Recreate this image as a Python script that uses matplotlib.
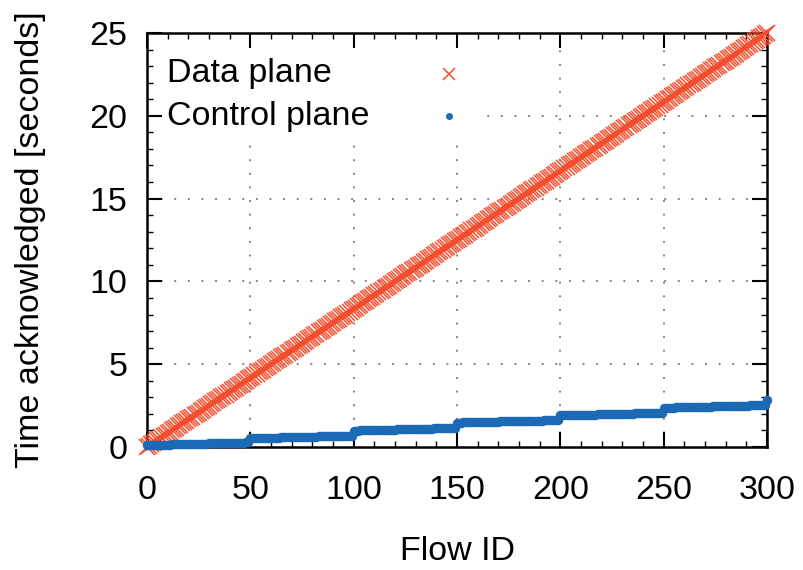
import matplotlib
matplotlib.use('Agg')
import matplotlib.pyplot as plt
from matplotlib.patches import Rectangle
from matplotlib.ticker import MultipleLocator

plt.rcParams['font.family'] = ['Liberation Sans', 'DejaVu Sans']

# flow ids 0..300
flow_id = list(range(301))

# data plane: ack time grows steadily with flow id
data_plane = [
    0.00, 0.08, 0.17, 0.25, 0.33, 0.42, 0.50, 0.58, 0.67, 0.75, 0.83, 0.92,
    1.00, 1.08, 1.17, 1.25, 1.33, 1.42, 1.50, 1.58, 1.67, 1.75, 1.83, 1.92,
    2.00, 2.08, 2.17, 2.25, 2.33, 2.42, 2.50, 2.58, 2.67, 2.75, 2.83, 2.92,
    3.00, 3.08, 3.17, 3.25, 3.33, 3.42, 3.50, 3.58, 3.67, 3.75, 3.83, 3.92,
    4.00, 4.08, 4.17, 4.25, 4.33, 4.42, 4.50, 4.58, 4.67, 4.75, 4.83, 4.92,
    5.00, 5.08, 5.17, 5.25, 5.33, 5.42, 5.50, 5.58, 5.67, 5.75, 5.83, 5.92,
    6.00, 6.08, 6.17, 6.25, 6.33, 6.42, 6.50, 6.58, 6.67, 6.75, 6.83, 6.92,
    7.00, 7.08, 7.17, 7.25, 7.33, 7.42, 7.50, 7.58, 7.67, 7.75, 7.83, 7.92,
    8.00, 8.08, 8.17, 8.25, 8.33, 8.42, 8.50, 8.58, 8.67, 8.75, 8.83, 8.92,
    9.00, 9.08, 9.17, 9.25, 9.33, 9.42, 9.50, 9.58, 9.67, 9.75, 9.83, 9.92,
    10.00, 10.08, 10.17, 10.25, 10.33, 10.42, 10.50, 10.58, 10.67, 10.75, 10.83, 10.92,
    11.00, 11.08, 11.17, 11.25, 11.33, 11.42, 11.50, 11.58, 11.67, 11.75, 11.83, 11.92,
    12.00, 12.08, 12.17, 12.25, 12.33, 12.42, 12.50, 12.58, 12.67, 12.75, 12.83, 12.92,
    13.00, 13.08, 13.17, 13.25, 13.33, 13.42, 13.50, 13.58, 13.67, 13.75, 13.83, 13.92,
    14.00, 14.08, 14.17, 14.25, 14.33, 14.42, 14.50, 14.58, 14.67, 14.75, 14.83, 14.92,
    15.00, 15.08, 15.17, 15.25, 15.33, 15.42, 15.50, 15.58, 15.67, 15.75, 15.83, 15.92,
    16.00, 16.08, 16.17, 16.25, 16.33, 16.42, 16.50, 16.58, 16.67, 16.75, 16.83, 16.92,
    17.00, 17.08, 17.17, 17.25, 17.33, 17.42, 17.50, 17.58, 17.67, 17.75, 17.83, 17.92,
    18.00, 18.08, 18.17, 18.25, 18.33, 18.42, 18.50, 18.58, 18.67, 18.75, 18.83, 18.92,
    19.00, 19.08, 19.17, 19.25, 19.33, 19.42, 19.50, 19.58, 19.67, 19.75, 19.83, 19.92,
    20.00, 20.08, 20.17, 20.25, 20.33, 20.42, 20.50, 20.58, 20.67, 20.75, 20.83, 20.92,
    21.00, 21.08, 21.17, 21.25, 21.33, 21.42, 21.50, 21.58, 21.67, 21.75, 21.83, 21.92,
    22.00, 22.08, 22.17, 22.25, 22.33, 22.42, 22.50, 22.58, 22.67, 22.75, 22.83, 22.92,
    23.00, 23.08, 23.17, 23.25, 23.33, 23.42, 23.50, 23.58, 23.67, 23.75, 23.83, 23.92,
    24.00, 24.08, 24.17, 24.25, 24.33, 24.42, 24.50, 24.58, 24.67, 24.75, 24.83, 24.92,
    25.00,
]

# control plane: batches of 50 flows, small jump at every batch
control_plane = [
    # 0-49
    0.12, 0.12, 0.12, 0.13, 0.13, 0.13, 0.14, 0.14, 0.14, 0.15, 0.15, 0.15, 0.16, 0.16, 0.16,
    0.17, 0.17, 0.17, 0.18, 0.18, 0.18, 0.19, 0.19, 0.19, 0.20, 0.20, 0.20, 0.21, 0.21, 0.21,
    0.22, 0.22, 0.22, 0.23, 0.23, 0.23, 0.24, 0.24, 0.24, 0.25, 0.25, 0.25, 0.26, 0.26, 0.26,
    0.27, 0.27, 0.27, 0.28, 0.28,
    # 50-99
    0.53, 0.53, 0.53, 0.54, 0.54, 0.54, 0.55, 0.55, 0.55, 0.56, 0.56, 0.56, 0.57, 0.57, 0.57,
    0.58, 0.58, 0.58, 0.59, 0.59, 0.59, 0.60, 0.60, 0.60, 0.61, 0.61, 0.61, 0.62, 0.62, 0.62,
    0.63, 0.63, 0.63, 0.64, 0.64, 0.64, 0.65, 0.65, 0.65, 0.66, 0.66, 0.66, 0.67, 0.67, 0.67,
    0.68, 0.68, 0.68, 0.69, 0.69,
    # 100-149
    0.99, 0.99, 0.99, 1.00, 1.00, 1.00, 1.01, 1.01, 1.01, 1.02, 1.02, 1.02, 1.03, 1.03, 1.03,
    1.04, 1.04, 1.04, 1.05, 1.05, 1.05, 1.06, 1.06, 1.06, 1.07, 1.07, 1.07, 1.08, 1.08, 1.08,
    1.09, 1.09, 1.09, 1.10, 1.10, 1.10, 1.11, 1.11, 1.11, 1.12, 1.12, 1.12, 1.13, 1.13, 1.13,
    1.14, 1.14, 1.14, 1.15, 1.15,
    # 150-199
    1.47, 1.47, 1.47, 1.48, 1.48, 1.48, 1.49, 1.49, 1.49, 1.50, 1.50, 1.50, 1.51, 1.51, 1.51,
    1.52, 1.52, 1.52, 1.53, 1.53, 1.53, 1.54, 1.54, 1.54, 1.55, 1.55, 1.55, 1.56, 1.56, 1.56,
    1.57, 1.57, 1.57, 1.58, 1.58, 1.58, 1.59, 1.59, 1.59, 1.60, 1.60, 1.60, 1.61, 1.61, 1.61,
    1.62, 1.62, 1.62, 1.63, 1.63,
    # 200-249
    1.91, 1.91, 1.91, 1.92, 1.92, 1.92, 1.93, 1.93, 1.93, 1.94, 1.94, 1.94, 1.95, 1.95, 1.95,
    1.96, 1.96, 1.96, 1.97, 1.97, 1.97, 1.98, 1.98, 1.98, 1.99, 1.99, 1.99, 2.00, 2.00, 2.00,
    2.01, 2.01, 2.01, 2.02, 2.02, 2.02, 2.03, 2.03, 2.03, 2.04, 2.04, 2.04, 2.05, 2.05, 2.05,
    2.06, 2.06, 2.06, 2.07, 2.07,
    # 250-299
    2.37, 2.37, 2.37, 2.38, 2.38, 2.38, 2.39, 2.39, 2.39, 2.40, 2.40, 2.40, 2.41, 2.41, 2.41,
    2.42, 2.42, 2.42, 2.43, 2.43, 2.43, 2.44, 2.44, 2.44, 2.45, 2.45, 2.45, 2.46, 2.46, 2.46,
    2.47, 2.47, 2.47, 2.48, 2.48, 2.48, 2.49, 2.49, 2.49, 2.50, 2.50, 2.50, 2.51, 2.51, 2.51,
    2.52, 2.52, 2.52, 2.53, 2.53,
    # 300
    2.82,
]

x_ticks = [0, 50, 100, 150, 200, 250, 300]
y_ticks = [0, 5, 10, 15, 20, 25]
labels = ['Data plane', 'Control plane']

RED = '#f24d2d'
BLUE = '#1c69b6'
FS = 24.5

fig = plt.figure(figsize=(8.04, 5.70), dpi=100)
ax = fig.add_axes([147 / 804, 1 - 447 / 570, 620 / 804, 414 / 570])

# dotted grid at major ticks (drawn by hand so the key box can hide it)
for x in x_ticks[1:-1]:
    ax.axvline(x, color='#858585', ls=(0, (1, 6)), lw=1.4, zorder=0.5)
for y in y_ticks[1:-1]:
    ax.axhline(y, color='#858585', ls=(0, (1, 6)), lw=1.4, zorder=0.5)

data_style = dict(ls='none', marker='x', ms=11, mew=1.1, color=RED)
ctrl_style = dict(ls='none', marker='o', ms=6.8, mew=0, color=BLUE)

ax.plot(flow_id, data_plane, clip_on=False, zorder=3, **data_style)
ax.plot(flow_id, control_plane, clip_on=False, zorder=4, **ctrl_style)

ax.set_xlim(0, 300)
ax.set_ylim(0, 25)
ax.set_xticks(x_ticks)
ax.set_yticks(y_ticks)
ax.xaxis.set_minor_locator(MultipleLocator(10))
ax.yaxis.set_minor_locator(MultipleLocator(1))
ax.tick_params(which='both', direction='in', top=True, right=True, colors='black')
ax.tick_params(which='major', length=11, width=1.5, labelsize=FS)
ax.tick_params(which='minor', length=4, width=1.0)
ax.tick_params(axis='x', which='major', pad=20)
ax.tick_params(axis='y', which='major', pad=14)
for s in ax.spines.values():
    s.set_linewidth(1.8)

ax.set_xlabel('Flow ID', fontsize=FS)
ax.set_ylabel('Time acknowledged [seconds]', fontsize=FS)
ax.xaxis.set_label_coords(0.5, -0.215)
ax.yaxis.set_label_coords(-0.163, 0.5)

# gnuplot-style key: text on the left, sample on the right, white box hides grid
ax.add_patch(Rectangle((0, 0.742), 0.534, 0.258, transform=ax.transAxes,
                       facecolor='white', edgecolor='none', zorder=1))
key_y = [0.901, 0.799]
key_ms = [9, 5]
for lab, ky, st, ms in zip(labels, key_y, [data_style, ctrl_style], key_ms):
    ax.text(0.0323, ky, lab, transform=ax.transAxes, fontsize=FS,
            ha='left', va='center', zorder=5)
    ax.plot([0.487], [ky], transform=ax.transAxes, clip_on=False, zorder=5,
            **dict(st, ms=ms))

fig.savefig('out.png', dpi=100)
